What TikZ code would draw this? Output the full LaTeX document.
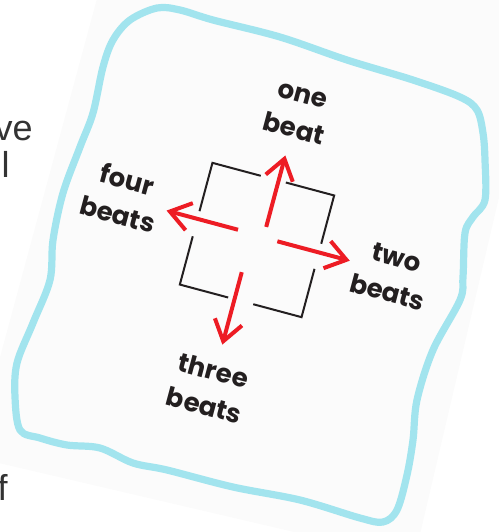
\documentclass[tikz,border=0pt]{standalone}
\usepackage{fontspec}
\usepackage{tikz}
\usetikzlibrary{arrows.meta}
\setmainfont{Liberation Sans}
\newfontfamily\beatfont{Poppins}
\definecolor{beatred}{HTML}{ED1C24}
\definecolor{chalk}{HTML}{A2E4EE}
\definecolor{ink}{HTML}{231F20}
\definecolor{card}{HTML}{FBFBFB}

\begin{document}
\begin{tikzpicture}[x=0.5pt,y=-0.5pt,
    beat/.style={font=\beatfont\bfseries\fontsize{13}{18}\selectfont,align=center,rotate=-15,text=ink,inner sep=0pt},
    hint/.style={font=\fontsize{18}{18}\selectfont,text=black!80,inner sep=0pt,anchor=base east},
    move/.style={beatred,line width=2pt,-{Straight Barb[length=10pt,width=14pt]}},
    side/.style={ink,line width=1pt}]
  \useasboundingbox (0,0) rectangle (499,532);
  \fill[card] (102,-20) -- (-27,457) -- (414,560) -- (550,-20) -- cycle;

  % page text cut by the edge
  \node[hint] (w1) at (33,140) {uve};
  \node[hint] (w2) at (10,177) {ul};
  \node[hint] (w3) at (8,500) {f};

  % crayon frame
  \draw[chalk,line width=3.6pt,line join=round] plot[smooth cycle,tension=0.55] coordinates {
    (103,67) (113,40) (130,20) (157,8) (180,10) (213,20) (280,37) (347,60)
    (413,80) (460,97) (477,110) (483,133) (485,160) (485,200) (473,217)
    (465,233) (463,277) (460,300) (433,350) (417,400) (413,440) (407,475)
    (397,510) (383,522) (360,518) (300,500) (233,487) (167,470) (133,463)
    (100,448) (67,445) (40,438) (20,430) (15,397) (17,363) (33,323)
    (50,280) (53,240) (63,193) (80,147) (93,113)};

  \begin{scope}[shift={(257,240)},rotate=-15]
    \foreach \a in {0,90,180,270}
      \draw[side,rotate=\a] (-13,-63) -| (-63,-13);
    \coordinate (up0) at (5.5,-15);  \coordinate (up1) at (5.5,-89);
    \coordinate (rt0) at (20,-4);    \coordinate (rt1) at (95,-4);
    \coordinate (dn0) at (-6.4,35);  \coordinate (dn1) at (-6.4,110);
    \coordinate (lf0) at (-21,-5);   \coordinate (lf1) at (-95,-5);
    \draw[move] (up0) -- (up1);
    \draw[move] (rt0) -- (rt1);
    \draw[move] (dn0) -- (dn1);
    \draw[move] (lf0) -- (lf1);
  \end{scope}

  \node[beat] (one) at (298,113) {one\\beat};
  \node[beat] (two) at (392,275) {two\\beats};
  \node[beat] (three) at (209,388) {three\\beats};
  \node[beat] (four) at (122.5,196.5) {four\\beats};
\end{tikzpicture}
\end{document}
